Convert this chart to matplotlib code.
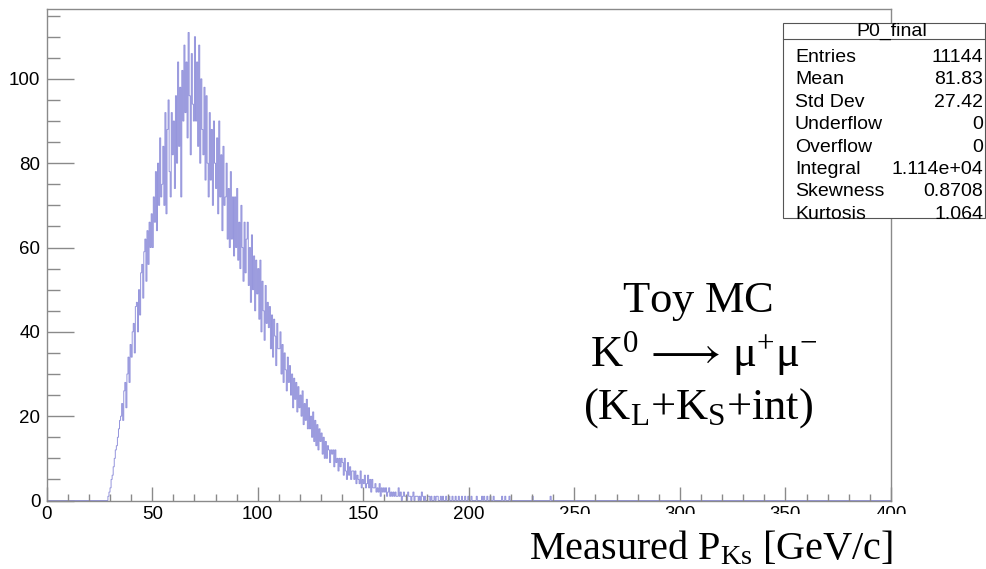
import numpy as np
import matplotlib
matplotlib.use("Agg")
import matplotlib.pyplot as plt
from matplotlib.patches import Rectangle
from matplotlib.ticker import MultipleLocator

W, H = 986, 569

# Histogram binning
x_min, x_max, bin_width = 0.0, 400.0, 0.5
first_filled = 29.0

# Bin contents, 0.5 GeV/c per bin, starting at 29.0
counts_rise = [1, 2, 3, 5, 6, 8, 10, 12, 13, 15, 17, 19,
               20, 23, 19, 26, 28, 22, 30, 34, 28, 37,
               34, 40, 42, 35, 46, 47, 40, 50, 44, 54,
               56, 48, 59, 62, 52, 64, 56, 66, 60, 68]
counts_peak = [60, 72, 66, 78, 64, 80, 70, 86, 72, 75,
               84, 70, 92, 68, 88, 95, 78, 72, 92, 82,
               90, 74, 96, 80, 104, 84, 98, 72, 102, 90,
               108, 92, 104, 86, 111, 96, 82, 106, 94, 90,
               110, 90, 104, 84, 108, 80, 100, 88, 82, 98,
               76, 96, 80, 72, 92, 76, 88, 70, 90, 80,
               74, 86, 68, 90, 72, 82, 64, 84, 70, 72,
               80, 62, 74, 60, 78, 62, 72, 58, 72, 60,
               74, 57, 66, 55, 70, 60, 52, 66, 54, 62,
               66, 51, 60, 47, 63, 50, 58, 45, 57, 49]
counts_fall = [55, 43, 57, 40, 52, 45, 38, 51, 42, 47,
               41, 46, 36, 44, 34, 43, 39, 32, 42, 36,
               36, 40, 30, 37, 28, 35, 31, 26, 34, 28,
               32, 25, 30, 22, 29, 24, 28, 21, 27, 22,
               25, 20, 26, 18, 23, 19, 24, 17, 22, 17,
               20, 15, 21, 14, 19, 13, 18, 12, 17, 14,
               16, 11, 15, 10, 14, 10, 13, 12, 9, 12,
               11, 12, 8, 12, 9, 10, 7, 10, 8, 10,
               9, 6, 10, 7, 5, 9, 6, 8, 5, 7,
               7, 5, 7, 4, 6, 5, 4, 7, 3, 5]
counts_low = [4, 6, 3, 4, 6, 3, 5, 2, 5, 3,
              3, 4, 2, 3, 2, 4, 1, 3, 2, 3,
              2, 3, 1, 2, 3, 1, 2, 1, 2, 1,
              2, 1, 1, 3, 1, 2, 0, 1, 2, 1,
              1, 0, 2, 1, 1, 0, 1, 2, 0, 1,
              1, 1, 0, 1, 0, 2, 1, 0, 1, 0,
              0, 1, 1, 0, 1, 0, 0, 1, 0, 1,
              1, 0, 0, 1, 0, 1, 0, 0, 1, 0,
              0, 1, 0, 0, 1, 0, 0, 1, 0, 0,
              1, 0, 0, 1, 0, 0, 1, 0, 0, 1]
tail_positions = [201.0, 203.5, 206.0, 207.0, 208.5, 210.0, 211.5,
                  215.5, 217.0, 219.0, 230.0, 238.5]
tail_counts = [1, 1, 1, 1, 1, 1, 1, 1, 1, 1, 1, 1]

# Statistics panel
stat_title = "P0_final"
stat_names = ["Entries", "Mean", "Std Dev", "Underflow", "Overflow",
              "Integral", "Skewness", "Kurtosis"]
stat_values = ["11144", "81.83", "27.42", "0", "0", "1.114e+04",
               "0.8708", "1.064"]

x_ticks_major, x_ticks_minor = 50, 10
y_ticks_major, y_ticks_minor = 20, 5
y_top = 116.5

plt.rcParams["mathtext.fontset"] = "custom"
plt.rcParams["mathtext.rm"] = "Liberation Serif"
plt.rcParams["mathtext.it"] = "Liberation Serif:italic"
plt.rcParams["mathtext.bf"] = "Liberation Serif:bold"

n_bins = int(round((x_max - x_min) / bin_width))
counts = np.zeros(n_bins)
core = counts_rise + counts_peak + counts_fall + counts_low
i0 = int(round((first_filled - x_min) / bin_width))
counts[i0:i0 + len(core)] = core
for p, c in zip(tail_positions, tail_counts):
    counts[int(round((p - x_min) / bin_width))] += c
edges = np.linspace(x_min, x_max, n_bins + 1)


def fx(px):
    return px / W


def fy(py):
    return 1 - py / H


fig = plt.figure(figsize=(W / 100, H / 100), dpi=100)
ax_l, ax_r, ax_t, ax_b = 46.7, 891.0, 9.3, 500.5
ax = fig.add_axes([fx(ax_l), fy(ax_b), fx(ax_r) - fx(ax_l), (ax_b - ax_t) / H])

ax.stairs(counts, edges, color="#9494dc", lw=0.7)
ax.set_xlim(x_min, x_max)
ax.set_ylim(0, y_top)

frame_col = "#8a8a8a"
for s in ax.spines.values():
    s.set_color(frame_col)
    s.set_linewidth(1.0)

ax.xaxis.set_major_locator(MultipleLocator(x_ticks_major))
ax.xaxis.set_minor_locator(MultipleLocator(x_ticks_minor))
ax.yaxis.set_major_locator(MultipleLocator(y_ticks_major))
ax.yaxis.set_minor_locator(MultipleLocator(y_ticks_minor))
ax.tick_params(axis="x", which="major", direction="in", length=10, width=1,
               color=frame_col, labelsize=13.5, pad=4)
ax.tick_params(axis="x", which="minor", direction="in", length=5, width=1,
               color=frame_col)
ax.tick_params(axis="y", which="major", direction="in", length=19.5, width=1,
               color=frame_col, labelsize=13.5, pad=4.5)
ax.tick_params(axis="y", which="minor", direction="in", length=9.5, width=1,
               color=frame_col)
for lab in ax.get_xticklabels() + ax.get_yticklabels():
    lab.set_fontfamily("Liberation Sans")

# White band behind the axis title
fig.patches.append(Rectangle((fx(515), 0), 1 - fx(515), fy(514), transform=fig.transFigure,
                             facecolor="white", edgecolor="none", zorder=5))
fig.text(fx(893), fy(559), r"$\mathrm{Measured\ P_{Ks}\ [GeV/c]}$",
         ha="right", va="baseline", fontsize=29, zorder=6)

# Annotation block
fig.text(fx(698), fy(312), r"$\mathrm{Toy\ MC}$", ha="center", va="baseline",
         fontsize=32, zorder=6)
fig.text(fx(704), fy(366), r"$\mathrm{K^{0}}\,\longrightarrow\,\mathrm{\mu^{+}\mu^{-}}$",
         ha="center", va="baseline", fontsize=32, zorder=6)
fig.text(fx(698), fy(419), r"$\mathrm{(K_{L}{+}K_{S}{+}int)}$", ha="center", va="baseline",
         fontsize=32, zorder=6)

# Statistics box
bx0, bx1, by0, by1, by_title = 783, 985, 23, 218, 39
fig.patches.append(Rectangle((fx(bx0), fy(by1)), fx(bx1) - fx(bx0), (by1 - by0) / H,
                             transform=fig.transFigure, facecolor="white",
                             edgecolor="#555555", lw=0.8, zorder=5))
fig.lines.append(plt.Line2D([fx(bx0), fx(bx1)], [fy(by_title), fy(by_title)],
                            transform=fig.transFigure, color="#555555", lw=0.8, zorder=6))
fig.text(fx((bx0 + bx1) / 2 + 8), fy(31), stat_title, ha="center", va="center",
         fontsize=14, family="Liberation Sans", zorder=7)
row_y0, row_dy = 57.5, 22.4
for k, (name, val) in enumerate(zip(stat_names, stat_values)):
    yy = row_y0 + k * row_dy
    fig.text(fx(795), fy(yy), name, ha="left", va="center", fontsize=14,
             family="Liberation Sans", zorder=7)
    fig.text(fx(983), fy(yy), val, ha="right", va="center", fontsize=14,
             family="Liberation Sans", zorder=7)

fig.savefig("out.png", dpi=100)
